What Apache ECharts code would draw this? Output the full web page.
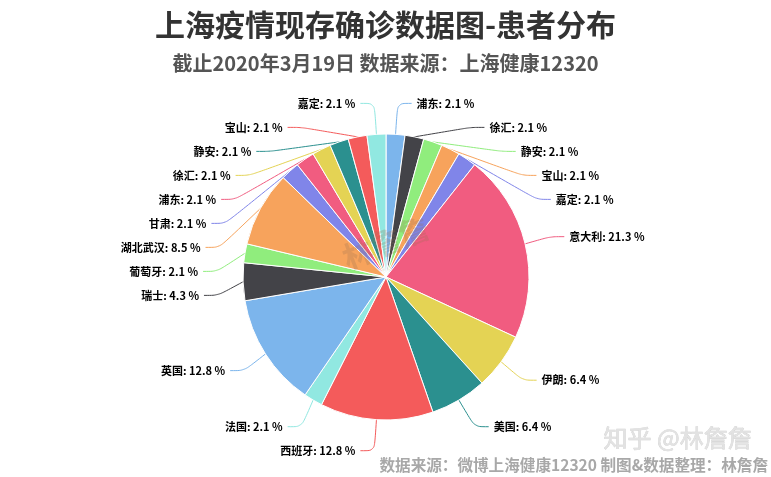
<!DOCTYPE html>
<html>
<head>
<meta charset="utf-8">
<script src="https://cdn.jsdelivr.net/npm/echarts@6/dist/echarts.min.js"></script>
<style>
html,body{margin:0;padding:0;background:#fff;}
#main{width:771px;height:477px;}
</style>
</head>
<body>
<div id="main"></div>
<script>
var categories = ['浦东','徐汇','静安','宝山','嘉定','意大利','伊朗','美国','西班牙','法国','英国','瑞士','葡萄牙','湖北武汉','甘肃','浦东','徐汇','静安','宝山','嘉定'];
var values = [1,1,1,1,1,10,3,3,6,1,6,2,1,4,1,1,1,1,1,1];
var palette = ['#7cb5ec','#434348','#90ed7d','#f7a35c','#8085e9','#f15c80','#e4d354','#2b908f','#f45b5b','#91e8e1'];

var total = values.reduce(function(a,b){return a+b;},0);
var FONT = '"Noto Sans CJK SC","Microsoft YaHei",sans-serif';

var chart = echarts.init(document.getElementById('main'), null, {renderer:'canvas'});
chart.setOption({
  backgroundColor:'#fff',
  animation:false,
  title:[{
    text:'上海疫情现存确诊数据图-患者分布',
    left:'center', top:5,
    textStyle:{fontSize:30,fontWeight:'bold',color:'#333',fontFamily:FONT}
  },{
    text:'截止2020年3月19日 数据来源：上海健康12320',
    left:'center', top:48,
    textStyle:{fontSize:20,fontWeight:'bold',color:'#555',fontFamily:FONT}
  }],
  graphic:[{
    type:'text', left:'center', top:212, rotation:0.38, z:100, silent:true,
    style:{text:'林詹詹', fontSize:30, fontWeight:'bold', fill:'rgba(150,110,80,0.25)', fontFamily:FONT}
  },{
    type:'text', right:19, top:426, z:100, silent:true,
    style:{text:'知乎 @林詹詹', fontSize:24, fill:'#e2e2e2', stroke:'#cfcfcf', lineWidth:0.6, fontFamily:FONT}
  },{
    type:'text', right:3, top:457, z:100, silent:true,
    style:{text:'数据来源：微博上海健康12320 制图&数据整理：林詹詹', fontSize:15.6, fontWeight:'bold', fill:'#a8a8a8', fontFamily:FONT}
  }],
  series:[{
    type:'pie',
    center:[386,277],
    radius:143,
    startAngle:90,
    clockwise:true,
    itemStyle:{borderColor:'#fff',borderWidth:1},
    label:{
      show:true, position:'outside',
      fontSize:11, fontWeight:'bold', color:'#000', fontFamily:FONT,
      lineHeight:22,
      formatter:function(p){
        return p.name + ': ' + (values[p.dataIndex]/total*100).toFixed(1) + ' %';
      }
    },
    labelLine:{show:true,length:31,length2:14,smooth:0.3,lineStyle:{width:1}},
    data: categories.map(function(c,i){
      return {name:c,value:values[i],itemStyle:{color:palette[i % palette.length]}};
    })
  }]
});
</script>
</body>
</html>
